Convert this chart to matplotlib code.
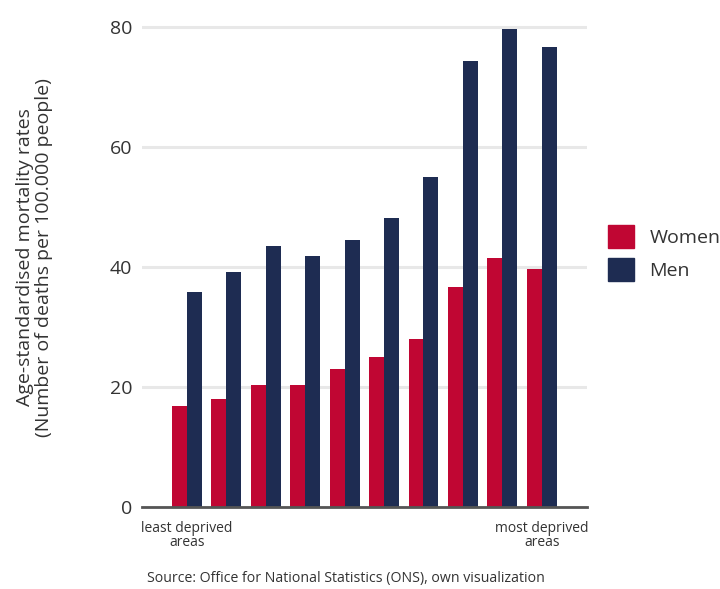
import numpy as np
import matplotlib.pyplot as plt
from matplotlib.patches import Patch

plt.rcParams['font.family'] = ['Open Sans', 'DejaVu Sans']

# deprivation deciles, least -> most deprived
women = [16.9, 18.0, 20.4, 20.4, 23.0, 25.0, 28.0, 36.6, 41.5, 39.7]
men = [35.9, 39.2, 43.5, 41.8, 44.5, 48.2, 55.0, 74.2, 79.6, 76.6]
series_names = ['Women', 'Men']
colors = ['#C00633', '#1E2C52']
yticks = [0, 20, 40, 60, 80]

fig = plt.figure(figsize=(7.2, 5.89), dpi=100)
ax = fig.add_axes([0.197, 0.1384, 0.618, 0.8277])

x = np.arange(len(women))
w = 0.38
ax.bar(x - w / 2, women, width=w, color=colors[0], zorder=3)
ax.bar(x + w / 2, men, width=w, color=colors[1], zorder=3)

ax.set_xlim(-1.14, len(women) - 1 + 1.14)
ax.set_ylim(0, 81.1)
ax.set_yticks(yticks)
ax.set_xticks([])
ax.yaxis.grid(True, color='#e8e8e8', linewidth=2.2, zorder=0)
ax.tick_params(axis='y', length=0, pad=7, labelsize=14, labelcolor='#333333')
for s in ['top', 'right', 'left']:
    ax.spines[s].set_visible(False)
ax.spines['bottom'].set_color('#555555')
ax.spines['bottom'].set_linewidth(2)
ax.spines['bottom'].set_zorder(4)

ax.set_ylabel('Age-standardised mortality rates\n(Number of deaths per 100.000 people)',
              fontsize=14, color='#333333', linespacing=1.05)
ax.yaxis.set_label_coords(-0.200, 0.513)

ax.text(0, -2.3, 'least deprived\nareas', ha='center', va='top', fontsize=10,
        color='#333333', linespacing=0.9)
ax.text(len(women) - 1, -2.3, 'most deprived\nareas', ha='center', va='top', fontsize=10,
        color='#333333', linespacing=0.9)

fig.text(0.48, 0.005, 'Source: Office for National Statistics (ONS), own visualization',
         ha='center', va='bottom', fontsize=10.2, color='#333333')

handles = [Patch(color=c, label=n) for c, n in zip(colors, series_names)]
fig.legend(handles=handles, loc='center left', bbox_to_anchor=(0.845, 0.571),
           frameon=False, fontsize=14, handlelength=1.3, handleheight=1.45,
           handletextpad=0.8, labelspacing=0.5, labelcolor='#333333',
           borderaxespad=0, borderpad=0)

fig.savefig('out.png', dpi=100)
